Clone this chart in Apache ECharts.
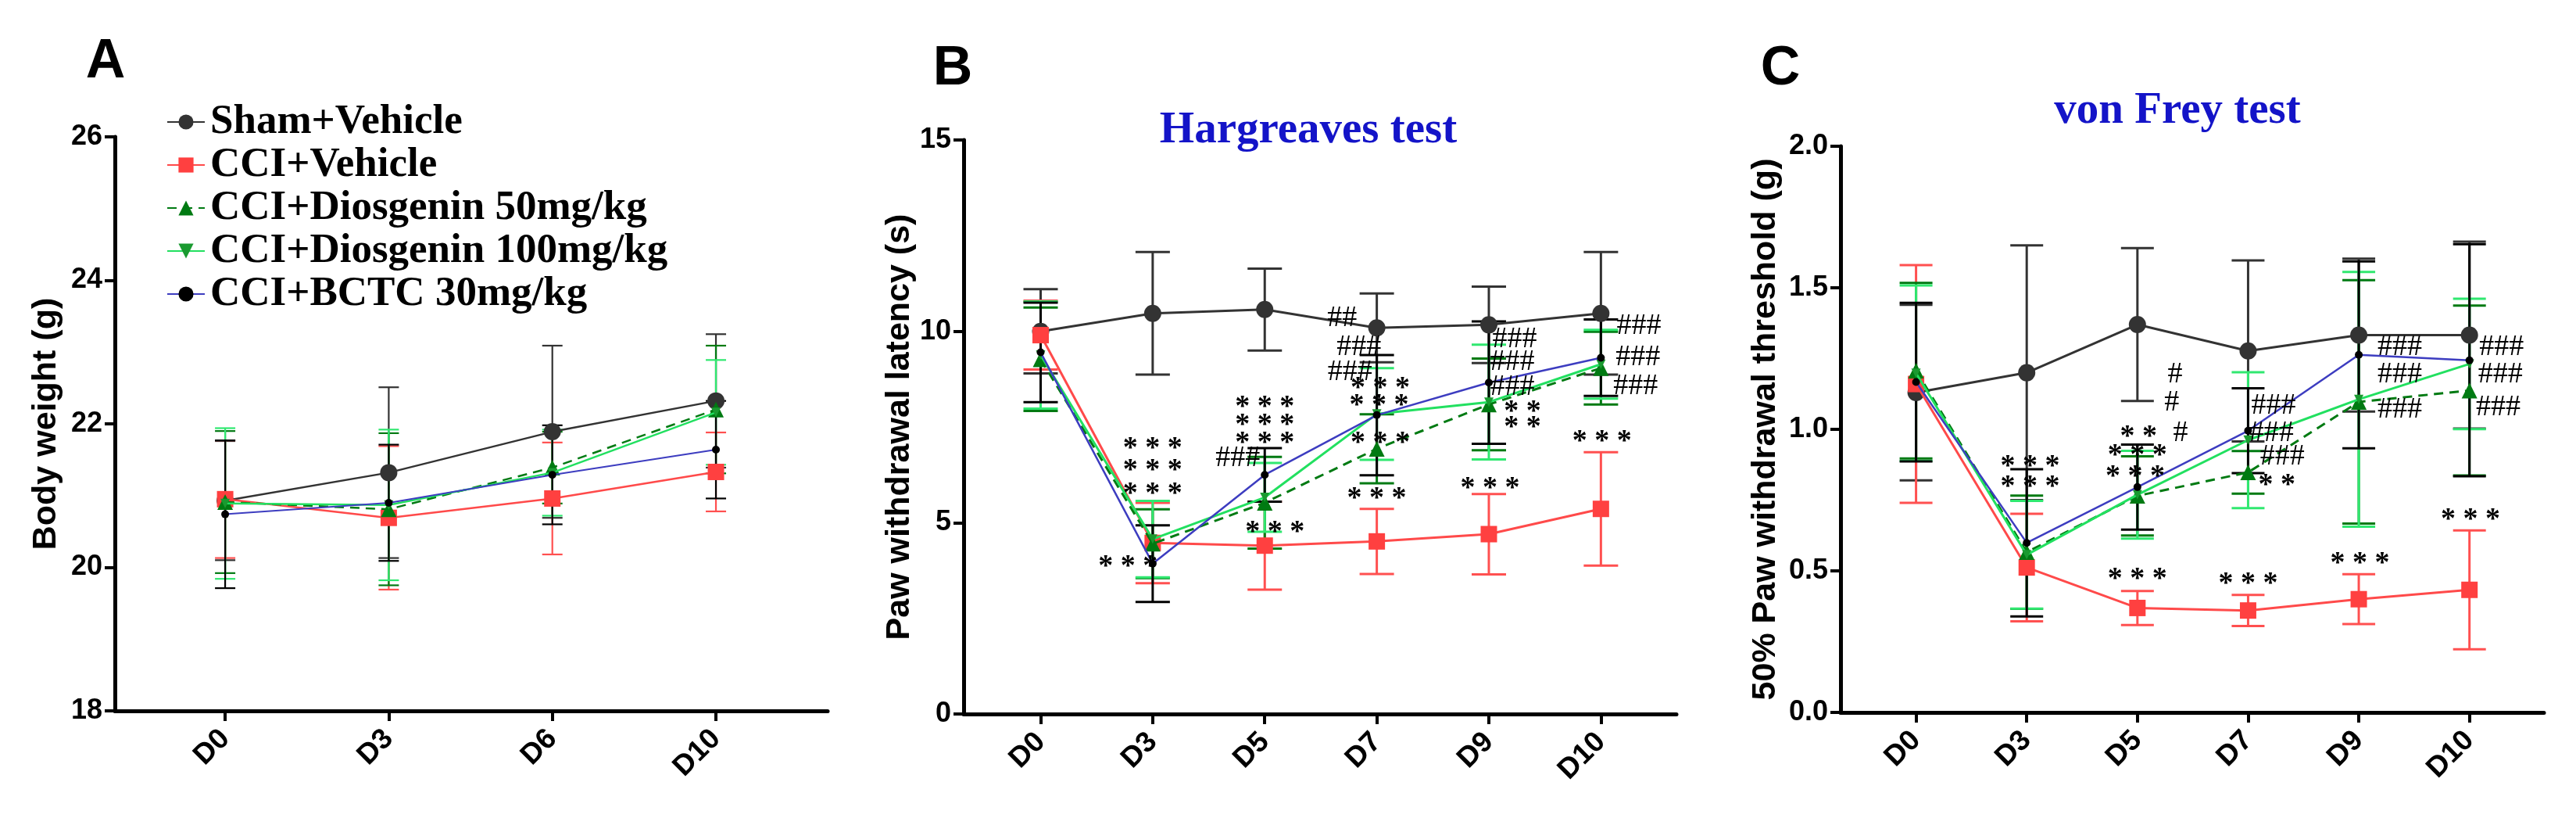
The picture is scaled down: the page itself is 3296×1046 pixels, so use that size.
<!DOCTYPE html>
<html>
<head>
<meta charset="utf-8">
<script src="https://cdn.jsdelivr.net/npm/echarts@6/dist/echarts.min.js"></script>
<style>
html,body{margin:0;padding:0;background:#fff;}
#chart{width:3296px;height:1046px;}
</style>
</head>
<body>
<div id="chart"></div>
<script>
// ---------- data ----------
const seriesNames = ['Sham+Vehicle', 'CCI+Vehicle', 'CCI+Diosgenin 50mg/kg', 'CCI+Diosgenin 100mg/kg', 'CCI+BCTC 30mg/kg'];

// Panel A: body weight (g)
const catsA = ['D0', 'D3', 'D6', 'D10'];
const shamA = [20.93, 21.32, 21.89, 22.32];
const shamAErr = [0.83, 1.19, 1.20, 0.93];
const cciA = [20.95, 20.69, 20.96, 21.33];
const cciAErr = [0.82, 1.00, 0.78, 0.55];
const dio50A = [20.91, 20.81, 21.39, 22.20];
const dio50AErr = [0.99, 1.06, 0.50, 0.89];
const dio100A = [20.89, 20.87, 21.32, 22.16];
const dio100AErr = [1.05, 1.05, 0.60, 0.73];
const bctcA = [20.74, 20.90, 21.29, 21.64];
const bctcAErr = [1.03, 0.81, 0.69, 0.68];
const ticksA = [18, 20, 22, 24, 26];

// Panel B: Hargreaves test, paw withdrawal latency (s)
const catsB = ['D0', 'D3', 'D5', 'D7', 'D9', 'D10'];
const shamB = [10.00, 10.47, 10.57, 10.09, 10.17, 10.47];
const shamBErr = [1.10, 1.60, 1.07, 0.90, 1.00, 1.60];
const cciB = [9.90, 4.47, 4.40, 4.51, 4.70, 5.36];
const cciBErr = [0.90, 1.05, 1.15, 0.85, 1.05, 1.48];
const dio50B = [9.27, 4.45, 5.52, 6.93, 8.09, 9.04];
const dio50BErr = [1.35, 0.90, 1.20, 0.90, 1.20, 0.95];
const dio100B = [9.38, 4.57, 5.66, 7.84, 8.15, 9.14];
const dio100BErr = [1.40, 1.00, 0.90, 1.20, 1.50, 0.90];
const bctcB = [9.45, 3.93, 6.25, 7.81, 8.66, 9.31];
const bctcBErr = [1.30, 1.00, 0.70, 1.57, 1.60, 1.00];
const ticksB = [0, 5, 10, 15];
const annotationsB = [
  [1.00, 7.09, '***'], [1.00, 6.52, '***'], [1.00, 5.90, '***'], [0.78, 4.00, '***'],
  [2.00, 8.18, '***'], [2.00, 7.70, '***'], [2.00, 7.23, '***'], [1.76, 6.68, '###'], [2.09, 4.91, '***'],
  [2.69, 10.34, '##'], [2.84, 9.59, '###'], [2.76, 8.93, '###'], [3.03, 8.67, '***'], [3.02, 8.22, '***'],
  [3.03, 7.23, '***'], [3.00, 5.77, '***'],
  [4.23, 9.79, '###'], [4.21, 9.20, '###'], [4.21, 8.54, '###'], [4.30, 8.05, '**'], [4.30, 7.64, '**'],
  [4.01, 6.04, '***'],
  [5.34, 10.13, '###'], [5.33, 9.31, '###'], [5.31, 8.56, '###'], [5.01, 7.27, '***']
];

// Panel C: von Frey test, 50% paw withdrawal threshold (g)
const catsC = ['D0', 'D3', 'D5', 'D7', 'D9', 'D10'];
const shamC = [1.130, 1.200, 1.370, 1.277, 1.333, 1.333];
const shamCErr = [0.31, 0.45, 0.27, 0.32, 0.27, 0.33];
const cciC = [1.160, 0.512, 0.369, 0.360, 0.400, 0.433];
const cciCErr = [0.42, 0.19, 0.06, 0.055, 0.088, 0.21];
const dio50C = [1.207, 0.566, 0.765, 0.848, 1.097, 1.137];
const dio50CErr = [0.31, 0.20, 0.14, 0.075, 0.43, 0.30];
const dio100C = [1.198, 0.557, 0.769, 0.962, 1.106, 1.231];
const dio100CErr = [0.31, 0.19, 0.155, 0.24, 0.45, 0.23];
const bctcC = [1.167, 0.599, 0.796, 0.995, 1.263, 1.244];
const bctcCErr = [0.28, 0.26, 0.15, 0.15, 0.33, 0.41];
const ticksC = [0, 0.5, 1.0, 1.5, 2.0];
const annotationsC = [
  [1.03, 0.890, '***'], [1.03, 0.817, '***'],
  [2.01, 0.995, '**'], [2.00, 0.927, '***'], [1.98, 0.853, '***'],
  [2.34, 1.193, '#'], [2.31, 1.093, '#'], [2.39, 0.986, '#'], [2.00, 0.492, '***'],
  [3.23, 1.084, '###'], [3.21, 0.986, '###'], [3.31, 0.903, '###'], [3.26, 0.824, '**'], [3.00, 0.474, '***'],
  [4.37, 1.290, '###'], [4.37, 1.193, '###'], [4.37, 1.069, '###'], [4.01, 0.547, '***'],
  [5.29, 1.290, '###'], [5.28, 1.193, '###'], [5.26, 1.078, '###'], [5.01, 0.700, '***']
];

// ---------- styles ----------
const SANS = 'Liberation Sans';
const SERIF = 'Liberation Serif';
const styles = [
  {line: '#333333', marker: '#333333', err: '#333333', symbol: 'circle', size: 22, rotate: 0, dash: 'solid', width: 3},
  {line: '#ff4a4a', marker: '#ff4040', err: '#ff5050', symbol: 'rect', size: 21, rotate: 0, dash: 'solid', width: 3},
  {line: '#007a12', marker: '#007a12', err: '#007a12', symbol: 'triangle', size: 20, rotate: 0, dash: [12, 8], width: 3},
  {line: '#22e060', marker: '#1a9a30', err: '#30e870', symbol: 'triangle', size: 12, rotate: 180, dash: 'solid', width: 3},
  {line: '#3d3dc0', marker: '#000000', err: '#000000', symbol: 'circle', size: 10, rotate: 0, dash: 'solid', width: 2.5}
];

const panels = [
  {cats: catsA, means: [shamA, cciA, dio50A, dio100A, bctcA], errs: [shamAErr, cciAErr, dio50AErr, dio100AErr, bctcAErr],
   ticks: ticksA, ann: [], left: 147, width: 912, top: 175, height: 734, xmin: -0.674, xmax: 3.683,
   yname: 'Body weight (g)', nameGap: 66, cap: 26, errW: 2.2, fmt: v => String(v)},
  {cats: catsB, means: [shamB, cciB, dio50B, dio100B, bctcB], errs: [shamBErr, cciBErr, dio50BErr, dio100BErr, bctcBErr],
   ticks: ticksB, ann: annotationsB, left: 1233, width: 912, top: 179, height: 734, xmin: -0.687, xmax: 5.674,
   yname: 'Paw withdrawal latency (s)', nameGap: 58, cap: 44, errW: 3, fmt: v => String(v)},
  {cats: catsC, means: [shamC, cciC, dio50C, dio100C, bctcC], errs: [shamCErr, cciCErr, dio50CErr, dio100CErr, bctcCErr],
   ticks: ticksC, ann: annotationsC, left: 2355, width: 900, top: 187, height: 724, xmin: -0.682, xmax: 5.673,
   yname: '50% Paw withdrawal threshold (g)', nameGap: 74, cap: 42, errW: 3, fmt: v => v.toFixed(1)}
];

const grids = [], xAxes = [], yAxes = [], series = [];
panels.forEach((p, g) => {
  grids.push({left: p.left, top: p.top, width: p.width, height: p.height, containLabel: false});
  const idx = p.cats.map((c, i) => i);
  xAxes.push({
    type: 'value', gridIndex: g, min: p.xmin, max: p.xmax,
    axisLine: {show: true, onZero: false, lineStyle: {color: '#000', width: 5}},
    axisTick: {show: true, customValues: idx, length: 13, lineStyle: {color: '#000', width: 4}},
    axisLabel: {show: true, customValues: idx, formatter: v => p.cats[Math.round(v)], rotate: 45,
      fontSize: 37, fontWeight: 'bold', fontFamily: SANS, color: '#000', margin: 30},
    splitLine: {show: false}
  });
  yAxes.push({
    type: 'value', gridIndex: g, min: p.ticks[0], max: p.ticks[p.ticks.length - 1],
    interval: p.ticks[1] - p.ticks[0],
    axisLine: {show: true, onZero: false, lineStyle: {color: '#000', width: 5}},
    axisTick: {show: true, length: 13, lineStyle: {color: '#000', width: 4}},
    axisLabel: {fontSize: 36, fontWeight: 'bold', fontFamily: SANS, color: '#000', margin: 16, formatter: p.fmt},
    splitLine: {show: false},
    name: p.yname, nameLocation: 'middle', nameGap: p.nameGap,
    nameTextStyle: {fontSize: 43, fontWeight: 'bold', fontFamily: SANS, color: '#000'}
  });
  // error bars
  p.means.forEach((m, s) => {
    const st = styles[s];
    const errs = p.errs[s];
    series.push({
      type: 'custom', name: 'err' + g + '_' + s, xAxisIndex: g, yAxisIndex: g, silent: true, z: 2,
      data: m.map((v, i) => [i, v, errs[i]]),
      renderItem: (params, api) => {
        const x = api.value(0), v = api.value(1), e = api.value(2);
        const t = api.coord([x, v + e]), b = api.coord([x, v - e]);
        const hw = p.cap / 2;
        const ls = {stroke: st.err, lineWidth: p.errW};
        return {type: 'group', children: [
          {type: 'line', shape: {x1: t[0], y1: t[1], x2: b[0], y2: b[1]}, style: ls},
          {type: 'line', shape: {x1: t[0] - hw, y1: t[1], x2: t[0] + hw, y2: t[1]}, style: ls},
          {type: 'line', shape: {x1: b[0] - hw, y1: b[1], x2: b[0] + hw, y2: b[1]}, style: ls}
        ]};
      }
    });
  });
  // lines
  p.means.forEach((m, s) => {
    const st = styles[s];
    series.push({
      type: 'line', name: seriesNames[s], xAxisIndex: g, yAxisIndex: g, z: 3 + s,
      data: m.map((v, i) => [i, v]),
      symbol: st.symbol, symbolSize: st.size, symbolRotate: st.rotate, showAllSymbol: true,
      lineStyle: {color: st.line, width: g === 0 ? st.width - 0.5 : st.width, type: st.dash},
      itemStyle: {color: st.marker},
      emphasis: {disabled: true}, animation: false
    });
  });
  // annotations
  if (p.ann.length) {
    series.push({
      type: 'custom', name: 'ann' + g, xAxisIndex: g, yAxisIndex: g, silent: true, z: 20,
      data: p.ann.map(a => [a[0], a[1]]),
      renderItem: (params, api) => {
        const pt = api.coord([api.value(0), api.value(1)]);
        const txt = p.ann[params.dataIndex][2];
        const isStar = txt.indexOf('*') >= 0;
        return {type: 'text', x: pt[0], y: pt[1] + (isStar ? 8 : 0), style: {
          text: isStar ? txt.split('').join(' ') : txt,
          font: (isStar ? 'bold 38px ' : '38px ') + SERIF,
          fill: '#000', textAlign: 'center', textVerticalAlign: 'middle'
        }};
      }
    });
  }
});

const chart = echarts.init(document.getElementById('chart'), null, {renderer: 'canvas'});
chart.setOption({
  animation: false,
  backgroundColor: '#fff',
  grid: grids,
  xAxis: xAxes,
  yAxis: yAxes,
  legend: {
    data: seriesNames, orient: 'vertical', left: 208, top: 124,
    itemWidth: 48, itemHeight: 24, itemGap: 1, selectedMode: false,
    textStyle: {fontSize: 53, fontWeight: 'bold', fontFamily: SERIF, color: '#000', lineHeight: 54, padding: [0, 0, 0, 2]}
  },
  graphic: [
    {type: 'text', x: 135, y: 80, style: {text: 'A', font: 'bold 70px ' + SANS, fill: '#000', textAlign: 'center', textVerticalAlign: 'middle'}},
    {type: 'text', x: 1219, y: 89, style: {text: 'B', font: 'bold 70px ' + SANS, fill: '#000', textAlign: 'center', textVerticalAlign: 'middle'}},
    {type: 'text', x: 2278, y: 89, style: {text: 'C', font: 'bold 70px ' + SANS, fill: '#000', textAlign: 'center', textVerticalAlign: 'middle'}},
    {type: 'text', x: 1674, y: 167, style: {text: 'Hargreaves test', font: 'bold 57px ' + SERIF, fill: '#1414c8', textAlign: 'center', textVerticalAlign: 'middle'}},
    {type: 'text', x: 2786, y: 142, style: {text: 'von Frey test', font: 'bold 57px ' + SERIF, fill: '#1414c8', textAlign: 'center', textVerticalAlign: 'middle'}}
  ],
  series: series
});
</script>
</body>
</html>
